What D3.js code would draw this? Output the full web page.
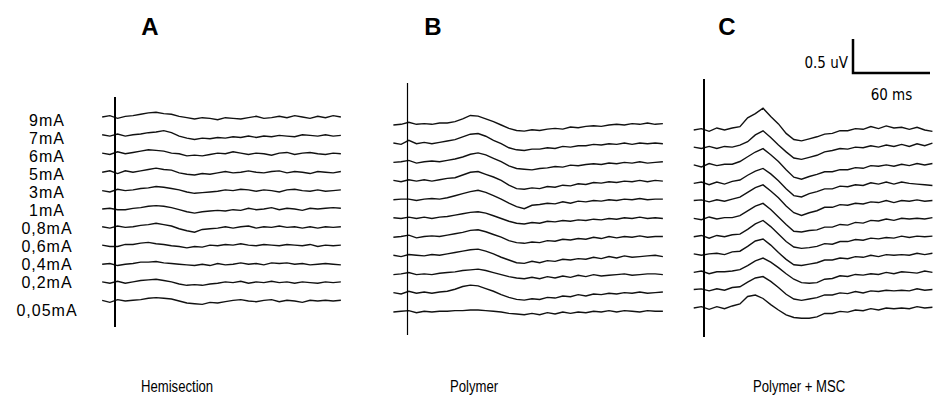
<!DOCTYPE html>
<meta charset="utf-8">
<style>
body { margin: 0; background: #fff; }
svg text { font-family: "Liberation Sans", Arial, sans-serif; fill: #000; }
svg text.narrow { font-family: "Liberation Sans Narrow", "Arial Narrow", "DejaVu Sans Condensed", sans-serif; }
</style>
<body>
<script src="https://cdn.jsdelivr.net/npm/d3@7"></script>
<script>

var width = 933,
    height = 397;

var stimuli = ["9mA", "7mA", "6mA", "5mA", "3mA", "1mA", "0,8mA", "0,6mA", "0,4mA", "0,2mA", "0,05mA"];
var groups = ["Hemisection", "Polymer", "Polymer + MSC"];
var letters = ["A", "B", "C"];

// sample times, ms after the stimulus
var timesA = [-10, -4, 2, 8, 14, 20, 26, 32, 38, 44, 50, 56, 62, 68, 74, 80, 86, 92, 98, 104, 110, 116, 122, 128, 134, 140, 146, 152, 158, 164, 170, 176];
var timesB = [-11, -5, 1, 7, 13, 19, 25, 31, 37, 43, 49, 55, 61, 67, 73, 79, 85, 91, 97, 103, 109, 115, 121, 127, 133, 139, 145, 151, 157, 163, 169, 175, 181, 187, 193, 199];
var timesC = [-8, -2, 4, 10, 16, 22, 28, 34, 40, 46, 52, 58, 64, 70, 76, 82, 88, 94, 100, 106, 112, 118, 124, 130, 136, 142, 148, 154, 160, 166, 172, 178];

// amplitudes in 0.01 uV, one row per stimulus, top to bottom
var hemisection = [
  [0, 2, -2, 1, 2, 4, 6, 7, 5, 4, 1, -1, -3, -1, -2, -4, -1, -2, -3, -1, 1, -2, -1, 1, -1, 2, 0, -2, 1, -1, 2, 0],
  [1, -1, 2, -1, 1, 2, 4, 5, 7, 4, -1, -4, -6, -4, -5, -3, -4, -2, -3, -1, -3, -1, -2, 0, -1, -2, 1, 0, -1, 1, -1, 0],
  [1, -1, 3, 0, 2, 4, 6, 5, 4, 1, 0, -3, -2, -3, -1, 1, 0, 3, 1, -1, 1, 0, -2, 1, 2, -1, 1, 2, 0, -1, 1, 0],
  [0, 2, -2, 2, 0, 2, 4, 6, 4, 3, -1, -3, -4, -2, -3, -1, 1, -1, 0, 2, 0, -1, 1, 2, -1, 1, 0, -2, 1, 0, -1, 1],
  [0, -2, 2, 0, 1, 3, 4, 6, 5, 3, 1, -2, -4, -3, -2, -1, 1, 0, 2, 1, -1, 1, 0, -2, 1, 2, 0, -1, 1, -1, 0, 1],
  [0, 1, -1, -1, 1, 2, 4, 5, 4, 2, -1, -4, -6, -4, -3, -2, -3, -1, -2, 1, -1, 0, 2, -1, 1, 0, -2, 1, 0, 1, 2, 1],
  [1, -1, 2, 0, 1, 3, 4, 6, 4, 2, -2, -5, -7, -3, -2, -1, 1, -1, 1, 2, -1, 1, 0, 2, 0, 1, -1, 1, -1, 1, 0, 1],
  [1, -1, -1, 2, 2, 4, 5, 3, 2, 0, -1, -3, -1, -2, 1, 0, 2, 1, 3, 1, 0, 2, 1, 0, 2, 1, 0, 2, -1, 1, 0, 1],
  [0, 1, -2, 0, 1, 3, 3, 4, 2, 1, 0, -1, -2, 0, -2, 1, -1, 0, 2, 0, 1, -1, 2, 1, 2, 0, 1, -1, 0, 1, 0, -1],
  [1, -1, 2, -1, 1, 3, 4, 5, 3, 1, -2, -4, -3, -4, -2, -1, 1, 0, 2, -1, 1, 0, 2, 0, 1, -1, 1, 0, -1, 1, 0, 1],
  [1, -2, 2, 0, 1, 2, 4, 5, 4, 3, 0, -3, -4, -5, -2, -3, -1, 1, 2, 0, -1, 1, 2, -1, 1, 0, -2, 1, 0, 1, 0, 1]
];

var polymer = [
  [0, 1, 4, 1, 2, 1, 3, 3, 5, 9, 14, 13, 9, 5, 0, -5, -8, -9, -7, -8, -6, -5, -6, -3, -4, -2, -1, -2, 0, 1, 0, 2, 1, 3, 1, 2],
  [1, -1, 5, 0, 2, 0, 2, 4, 6, 10, 14, 15, 11, 5, 0, -6, -9, -10, -8, -8, -6, -7, -4, -5, -3, -3, -1, -2, 0, -1, 1, -1, 1, 0, 1, 0],
  [0, 1, 3, -1, 1, 2, 1, 3, 5, 8, 12, 14, 11, 6, 1, -5, -9, -10, -11, -9, -8, -6, -7, -4, -5, -3, -2, -3, -1, -2, 0, -1, 1, -1, 0, 1],
  [1, -1, 2, 0, 2, 0, 2, 4, 5, 9, 13, 14, 10, 6, 1, -6, -11, -12, -10, -11, -8, -9, -6, -7, -4, -5, -2, -3, -1, -2, 0, -1, 1, -1, 1, 0],
  [0, 1, 1, -1, 1, 2, 1, 3, 6, 9, 12, 14, 11, 6, 1, -5, -10, -13, -8, -7, -5, -6, -3, -5, -2, -3, -1, -2, 0, -1, 1, 0, 2, 0, 1, 1],
  [1, 0, 2, 0, 2, 0, 2, 3, 5, 7, 9, 10, 8, 4, 0, -4, -7, -8, -6, -7, -4, -5, -3, -4, -2, -3, -1, -2, 0, -1, 1, 0, 2, 0, 1, 0],
  [0, 1, 3, -1, 1, 2, 1, 3, 5, 7, 10, 11, 8, 4, 0, -5, -8, -9, -7, -8, -5, -6, -3, -4, -2, -3, 0, -2, 1, -1, 1, 0, 2, 0, 1, 1],
  [1, -1, 2, 1, 0, 2, 1, 3, 5, 7, 9, 10, 7, 3, -2, -6, -10, -11, -8, -10, -7, -8, -5, -6, -4, -5, -2, -4, -1, -3, 0, -2, -1, 0, 1, -1],
  [0, 1, 3, 0, 1, 0, 2, 3, 4, 6, 7, 8, 6, 3, 0, -3, -5, -6, -4, -6, -3, -5, -2, -4, -1, -3, 0, -2, -1, 0, 1, -1, 0, 1, 1, 0],
  [1, -1, 3, 0, 2, 0, 2, 3, 6, 10, 12, 11, 7, 3, -2, -6, -9, -10, -8, -9, -6, -7, -4, -5, -2, -4, -1, -2, 0, -1, 1, 0, 2, 0, 1, 2],
  [0, 1, 2, -1, 1, 0, 1, 1, 2, 2, 3, 3, 2, 1, 0, -2, -3, -4, -2, -4, -1, -3, 0, -2, 0, -1, 1, 0, 2, 0, 2, 1, 0, 2, 1, 1]
];

var polymerMsc = [
  [0, 2, -2, 3, 0, 3, 5, 18, 24, 32, 20, 9, -5, -14, -16, -13, -10, -6, -5, -1, -1, 2, 1, 5, 2, 6, 3, 4, 1, 4, 0, -2],
  [1, -1, 2, -1, 2, 1, 4, 9, 19, 25, 15, 4, -6, -15, -17, -14, -11, -6, -4, -1, -2, 1, 0, 3, 1, 4, 2, 5, 2, 6, 3, 7],
  [1, -2, 3, 0, 2, 2, 6, 13, 20, 25, 16, 6, -6, -17, -20, -16, -13, -9, -9, -6, -6, -3, -4, 0, -1, 1, -1, 2, 0, 3, 1, 3],
  [0, 2, -2, 2, -1, 3, 5, 12, 18, 22, 14, 4, -8, -18, -20, -15, -12, -8, -8, -4, -5, -2, -3, 1, -1, 2, -1, 2, 0, -1, -2, -3],
  [1, 2, -1, 2, 0, 3, 6, 13, 20, 24, 15, 5, -7, -17, -21, -17, -14, -9, -9, -5, -6, -3, -4, -1, -2, 1, -2, 1, 0, 2, 0, 1],
  [1, -1, 3, 0, 2, 2, 5, 12, 19, 23, 14, 3, -8, -18, -19, -17, -16, -12, -12, -8, -9, -5, -6, -2, -3, 0, -2, 1, 0, 1, 0, 2],
  [0, 2, -2, 2, 0, 3, 4, 11, 19, 24, 15, 4, -7, -15, -17, -16, -14, -10, -11, -7, -7, -4, -5, -2, -3, -1, -2, 1, -1, 1, 0, 1],
  [1, -1, 1, 2, 0, 4, 5, 12, 20, 23, 14, 3, -7, -15, -16, -14, -12, -8, -8, -5, -6, -3, -4, -1, -3, 0, -1, 0, -1, 2, 0, 2],
  [0, 2, -2, 1, 1, 2, 4, 10, 17, 21, 15, 7, -2, -10, -15, -16, -15, -10, -9, -5, -6, -3, -4, -2, -3, 0, -2, 1, 0, -1, 2, 0],
  [1, 2, -1, 2, 0, 4, 5, 12, 18, 20, 13, 4, -6, -13, -15, -13, -11, -7, -7, -4, -5, -2, -4, -1, -2, 0, -1, 0, -1, 2, 0, 1],
  [0, 2, -2, 2, -1, 3, 6, 17, 19, 14, 5, -3, -10, -14, -15, -15, -13, -8, -8, -5, -6, -3, -4, -1, -3, 0, -1, 0, -1, 2, 0, 1]
];

var scaleBarUv = 0.5,
    scaleBarMs = 60;

var panels = [
  {times: timesA, traces: hemisection, stimX: 115, top: 117, bottom: 301, lineTop: 97, lineBottom: 327, lineW: 2, letterX: 150, labelX: 141},
  {times: timesB, traces: polymer, stimX: 407.5, top: 125, bottom: 312, lineTop: 83, lineBottom: 335, lineW: 1.2, letterX: 433, labelX: 450},
  {times: timesC, traces: polymerMsc, stimX: 704, top: 130, bottom: 308, lineTop: 79, lineBottom: 337, lineW: 2, letterX: 727, labelX: 753}
];

var svg = d3.select("body").append("svg")
    .attr("width", width)
    .attr("height", height);

// shared time and voltage lengths (px)
var msLen = d3.scaleLinear().domain([0, 60]).range([0, 77]);
var uvLen = d3.scaleLinear().domain([0, 0.5]).range([0, 34]);

panels.forEach(function(p, k) {
  var x = d3.scaleLinear().domain([0, 60]).range([p.stimX, p.stimX + msLen(60)]);
  var row = d3.scalePoint().domain(stimuli).range([p.top, p.bottom]);

  var g = svg.append("g");

  g.selectAll(".trace")
      .data(p.traces)
      .enter().append("path")
      .attr("class", "trace")
      .attr("fill", "none")
      .attr("stroke", "#111")
      .attr("stroke-width", 1.4)
      .attr("d", function(vals, j) {
        return d3.line()
            .x(function(v, i) { return x(p.times[i]); })
            .y(function(v) { return row(stimuli[j]) - uvLen(v * 0.01); })(vals);
      });

  g.append("line")
      .attr("x1", x(0)).attr("x2", x(0))
      .attr("y1", p.lineTop).attr("y2", p.lineBottom)
      .attr("stroke", "#000")
      .attr("stroke-width", p.lineW);

  g.append("text")
      .attr("x", p.letterX)
      .attr("y", 35)
      .attr("text-anchor", "middle")
      .style("font-size", "24px")
      .style("font-weight", "bold")
      .text(letters[k]);

  // condensed group label
  g.append("text")
      .attr("transform", "translate(" + p.labelX + ",392) scale(0.82,1)")
      .style("font-size", "16px")
      .text(groups[k]);
});

// stimulus labels
var labelRow = d3.scalePoint().domain(stimuli).range([120, 301]);
svg.selectAll(".stim")
    .data(stimuli)
    .enter().append("text")
    .attr("class", "stim")
    .attr("x", 47)
    .attr("y", function(d, i) { return labelRow(d) + 5.5 + (i === stimuli.length - 1 ? 9 : 0); })
    .attr("text-anchor", "middle")
    .style("font-size", "16px")
    .style("letter-spacing", "1px")
    .text(function(d) { return d; });

// scale bar
var barX = 853, barY = 73;
svg.append("path")
    .attr("fill", "none")
    .attr("stroke", "#000")
    .attr("stroke-width", 2.5)
    .attr("d", "M" + barX + "," + (barY - uvLen(scaleBarUv)) + "V" + barY + "H" + (barX + msLen(scaleBarMs)));

svg.append("text")
    .attr("class", "narrow")
    .attr("x", barX - 5)
    .attr("y", 68)
    .attr("text-anchor", "end")
    .style("font-size", "15px")
    .text(scaleBarUv + " uV");

svg.append("text")
    .attr("class", "narrow")
    .attr("x", barX + msLen(scaleBarMs) / 2 + 0)
    .attr("y", 100)
    .attr("text-anchor", "middle")
    .style("font-size", "15px")
    .text(scaleBarMs + " ms");

</script>
